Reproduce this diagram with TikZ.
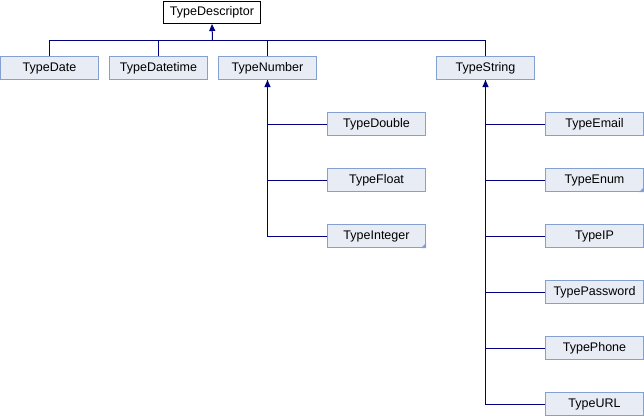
\documentclass[tikz,border=0pt]{standalone}
\usepackage{fontspec}
\setmainfont{Liberation Sans}
\usetikzlibrary{arrows.meta}
\definecolor{doxyfill}{HTML}{E8ECF5}
\definecolor{doxyborder}{HTML}{84A0D0}
\definecolor{doxyline}{HTML}{000080}
\begin{document}
\begin{tikzpicture}[x=1pt,y=-1pt,
    classbox/.style={draw=doxyborder,fill=doxyfill,line width=1pt,
      minimum width=98pt,minimum height=23pt,inner sep=0pt,
      font=\fontsize{12.5}{14}\selectfont},
    rootbox/.style={classbox,draw=black,fill=white,
      minimum width=97pt,minimum height=22pt},
    link/.style={doxyline,line width=1pt},
    inherit/.style={link,-{Triangle[width=6pt,length=7pt]}},
    foldcorner/.style={fill=doxyborder}]
    \useasboundingbox (0,0) rectangle (644,416);
    \node[rootbox] (tdescriptor) at (212,12.5) {TypeDescriptor};
    \coordinate (bus) at (212.5,40.5);
    \foreach \name/\label/\x in {tdate/TypeDate/49.5,tdatetime/TypeDatetime/158.5,
      tnumber/TypeNumber/267.5,tstring/TypeString/485.5}{
      \node[classbox] (\name) at (\x,68) {\label};
      \draw[link] (\name.north) |- (bus);
    }
    \draw[inherit] (bus) -- (tdescriptor.south);
    \foreach \name/\label/\y in {tdouble/TypeDouble/124,tfloat/TypeFloat/180,
      tinteger/TypeInteger/236}{
      \node[classbox] (\name) at (376.5,\y) {\label};
      \draw[link] (\name.west) -| (tnumber.south);
    }
    \draw[inherit] (tinteger.west) -| (tnumber.south);
    \foreach \name/\label/\y in {temail/TypeEmail/124,tenum/TypeEnum/180,
      tip/TypeIP/236,tpassword/TypePassword/292,tphone/TypePhone/348,
      turl/TypeURL/404}{
      \node[classbox] (\name) at (594.5,\y) {\label};
      \draw[link] (\name.west) -| (tstring.south);
    }
    \draw[inherit] (turl.west) -| (tstring.south);
    \foreach \name in {tinteger,tenum}{
      \fill[foldcorner] ([xshift=-5pt]\name.south east) -- (\name.south east)
        -- ([yshift=5pt]\name.south east) -- cycle;
    }
  \end{tikzpicture}
\end{document}
